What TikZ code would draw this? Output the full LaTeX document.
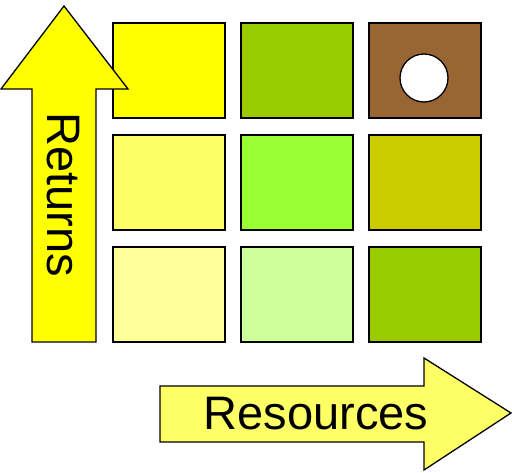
\documentclass[tikz,border=0pt]{standalone}
\usepackage{fontspec}
\setmainfont{Liberation Sans}
\definecolor{cYellow}{HTML}{FFFF00}
\definecolor{cOlive}{HTML}{99CC00}
\definecolor{cBrown}{HTML}{996633}
\definecolor{cLemon}{HTML}{FFFF66}
\definecolor{cLime}{HTML}{99FF33}
\definecolor{cMustard}{HTML}{CCCC00}
\definecolor{cCream}{HTML}{FFFF99}
\definecolor{cMint}{HTML}{CCFF99}
\tikzset{
  cell/.style={draw=black, line width=1.7pt, minimum width=112pt, minimum height=95pt, inner sep=0pt, anchor=north west},
  bigarrow/.style={draw=black, line width=1.3pt, line join=miter},
  label/.style={font=\fontsize{47}{47}\selectfont, inner sep=0pt},
}
\begin{document}
\begin{tikzpicture}[x=1pt,y=-1pt]
\useasboundingbox (0,0) rectangle (512,473);
% 3x3 grid of cells
\node[cell, fill=cYellow]  (c11) at (112,22)  {};
\node[cell, fill=cOlive]   (c12) at (240,22)  {};
\node[cell, fill=cBrown]   (c13) at (368,22)  {};
\node[cell, fill=cLemon]   (c21) at (112,134) {};
\node[cell, fill=cLime]    (c22) at (240,134) {};
\node[cell, fill=cMustard] (c23) at (368,134) {};
\node[cell, fill=cCream]   (c31) at (112,246) {};
\node[cell, fill=cMint]    (c32) at (240,246) {};
\node[cell, fill=cOlive]   (c33) at (368,246) {};
% marker in the top right cell
\node[draw=black, line width=1.3pt, fill=white, circle, minimum size=48pt, inner sep=0pt] (dot) at (424,78) {};
% vertical arrow
\draw[bigarrow, fill=cYellow] (32,342) -- (32,89) -- (1,89) -- (64,6) -- (128,89) -- (96,89) -- (96,342) -- cycle;
\node[label, rotate=-90] (ret) at (63,195) {Returns};
% horizontal arrow
\draw[bigarrow, fill=cLemon] (160,386) -- (424,386) -- (424,358) -- (511,413) -- (424,470) -- (424,442) -- (160,442) -- cycle;
\node[label] (res) at (316,414) {Resources};
\end{tikzpicture}
\end{document}
